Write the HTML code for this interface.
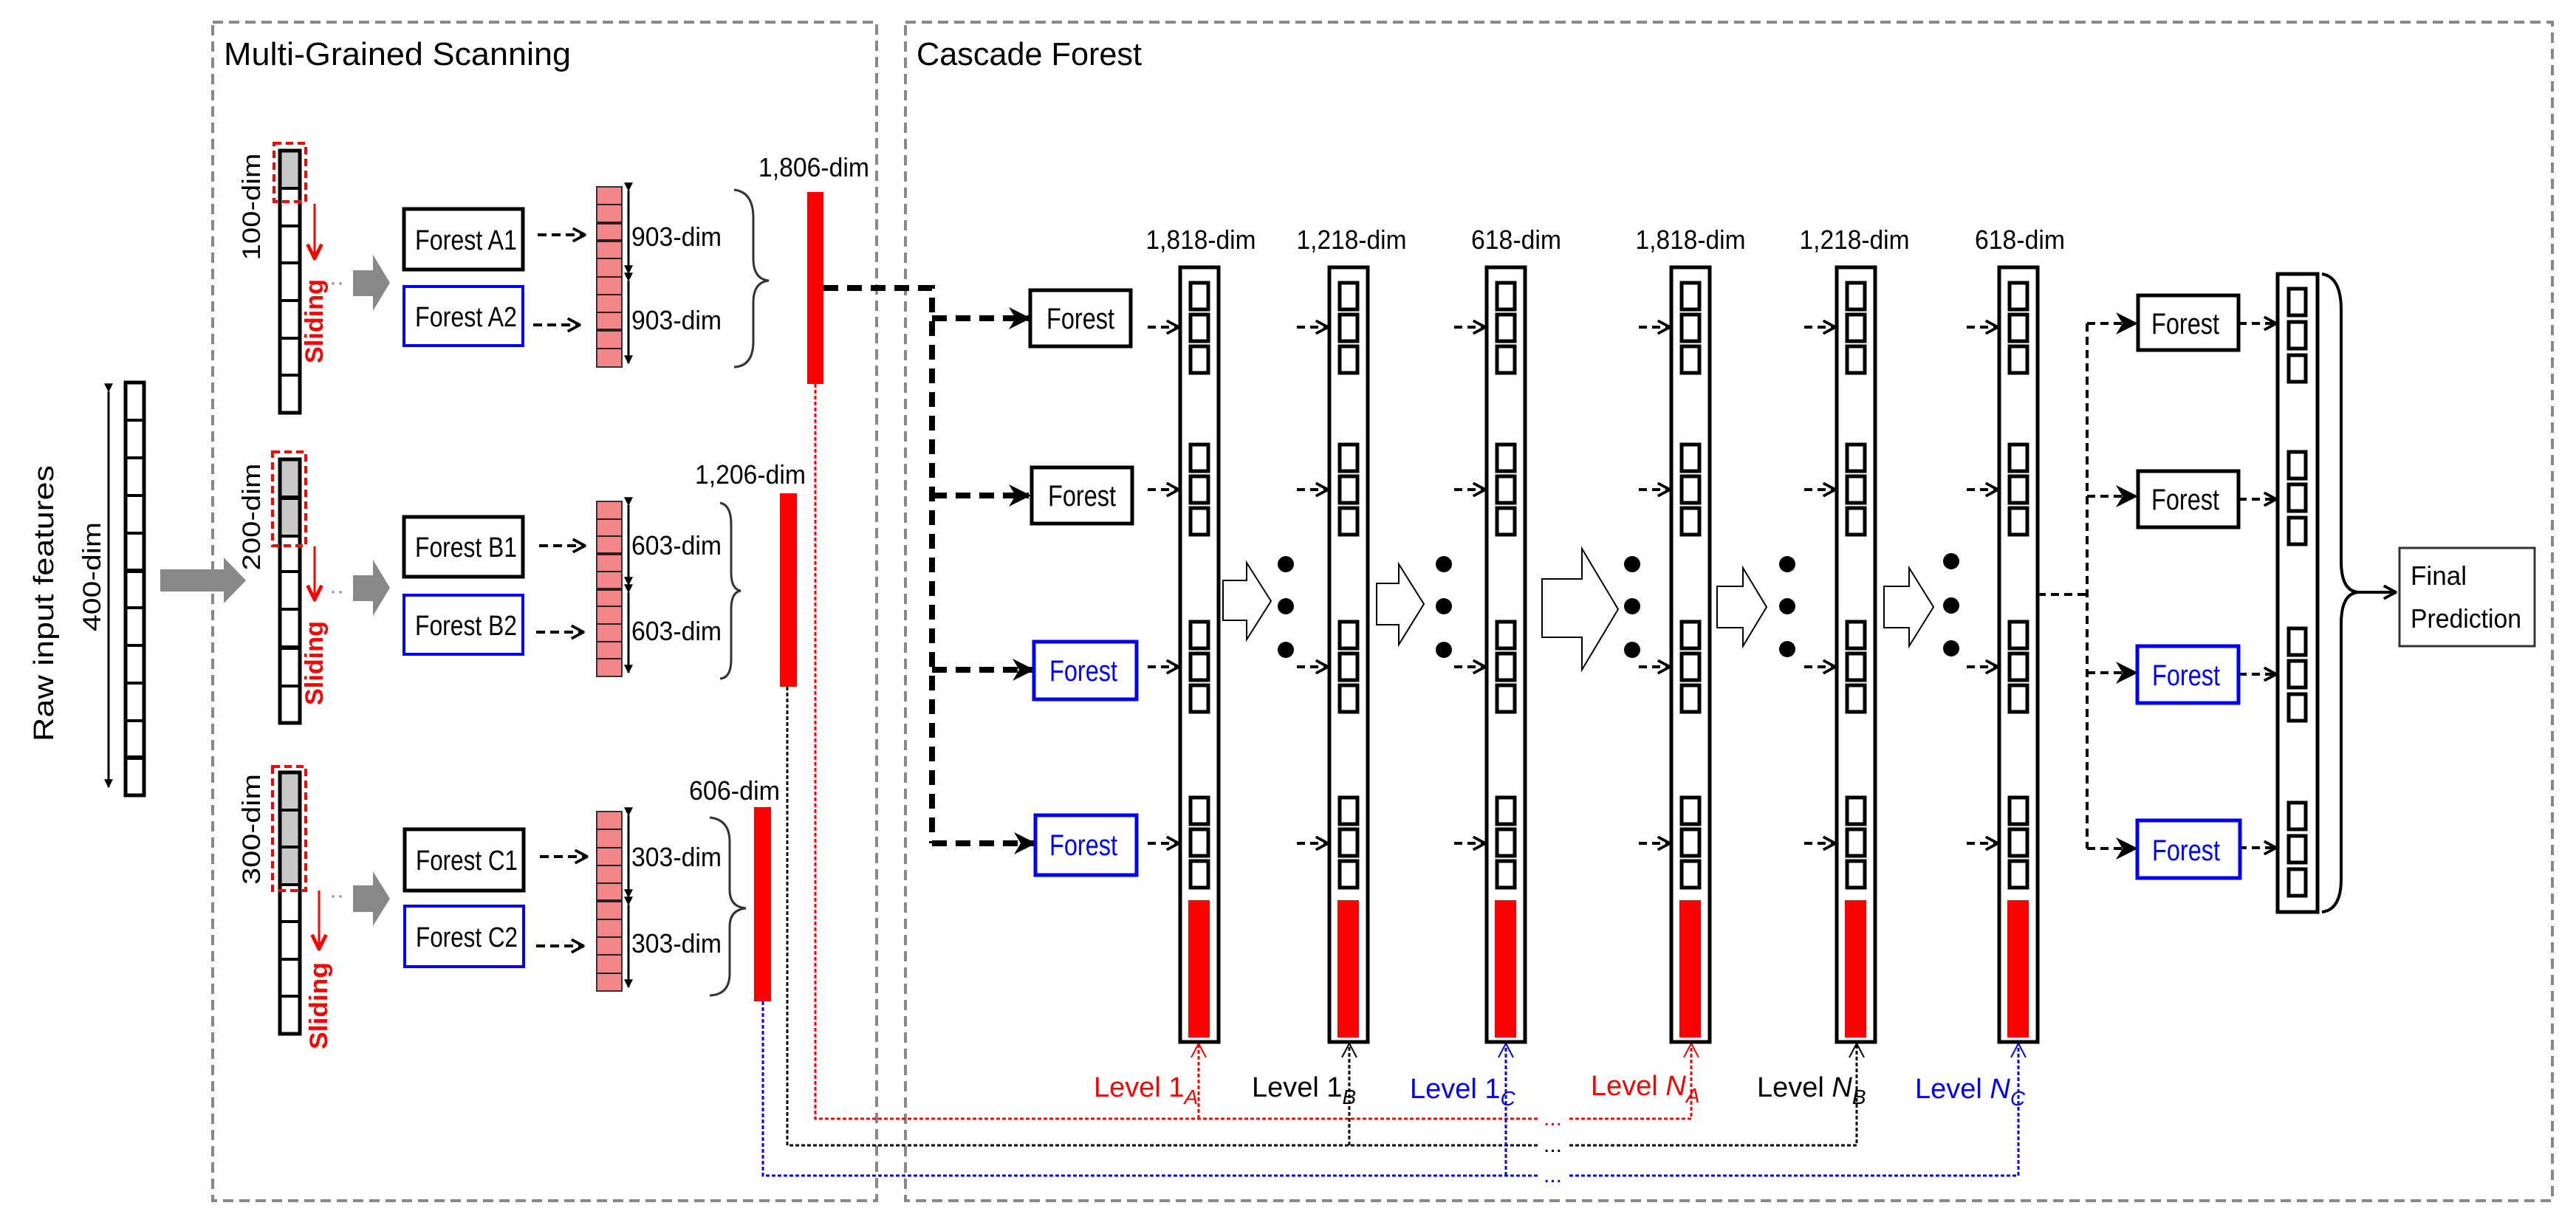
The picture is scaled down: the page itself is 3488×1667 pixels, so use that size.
<!DOCTYPE html>
<html><head><meta charset="utf-8"><style>
html,body{margin:0;padding:0;background:#fff;}
svg{display:block;}
text{font-family:"Liberation Sans",sans-serif;}
</style></head><body>
<svg width="3488" height="1667" viewBox="0 0 3488 1667" xmlns="http://www.w3.org/2000/svg">
<defs>
<marker id="ca" viewBox="0 0 16 16" refX="15" refY="8" markerWidth="20" markerHeight="20" orient="auto" markerUnits="userSpaceOnUse"><path d="M2,1 L15,8 L2,15" fill="none" stroke="#000" stroke-width="3"/></marker>
<marker id="fa" viewBox="0 0 10 10" refX="9" refY="5" markerWidth="30" markerHeight="30" orient="auto" markerUnits="userSpaceOnUse"><path d="M0,0 L10,5 L0,10 L3,5Z" fill="#000"/></marker>
<marker id="fs" viewBox="0 0 10 10" refX="9" refY="5" markerWidth="12" markerHeight="12" orient="auto" markerUnits="userSpaceOnUse"><path d="M0,0 L10,5 L0,10 Z" fill="#000"/></marker>
<marker id="ra" viewBox="0 0 10 10" refX="9" refY="5" markerWidth="24" markerHeight="24" orient="auto" markerUnits="userSpaceOnUse"><path d="M1,1 L9,5 L1,9" fill="none" stroke="#f00" stroke-width="2"/></marker>
<g id="col">
<rect x="0" y="362" width="52" height="1049" fill="#fff" stroke="#000" stroke-width="5"/>
<g fill="none" stroke="#000" stroke-width="5">
<rect x="14" y="383" width="24" height="36"/><rect x="14" y="426" width="24" height="36"/><rect x="14" y="469" width="24" height="36"/>
<rect x="14" y="602" width="24" height="36"/><rect x="14" y="645" width="24" height="36"/><rect x="14" y="688" width="24" height="36"/>
<rect x="14" y="842" width="24" height="36"/><rect x="14" y="885" width="24" height="36"/><rect x="14" y="928" width="24" height="36"/>
<rect x="14" y="1080" width="24" height="36"/><rect x="14" y="1123" width="24" height="36"/><rect x="14" y="1166" width="24" height="36"/>
</g>
<rect x="11" y="1219" width="29" height="186" fill="#f00"/>
<g stroke="#000" stroke-width="4" stroke-dasharray="11,7">
<line x1="-44" y1="443" x2="-2" y2="443" marker-end="url(#ca)"/>
<line x1="-44" y1="663" x2="-2" y2="663" marker-end="url(#ca)"/>
<line x1="-44" y1="903" x2="-2" y2="903" marker-end="url(#ca)"/>
<line x1="-44" y1="1142" x2="-2" y2="1142" marker-end="url(#ca)"/>
</g>
</g>
</defs>

<rect x="288" y="30" width="899" height="1596" fill="none" stroke="#888" stroke-width="4" stroke-dasharray="14,8"/>
<rect x="1226" y="30" width="2230" height="1596" fill="none" stroke="#888" stroke-width="4" stroke-dasharray="14,8"/>
<text x="303" y="88" font-size="44" textLength="470" lengthAdjust="spacingAndGlyphs">Multi-Grained Scanning</text>
<text x="1241" y="88" font-size="44" textLength="305" lengthAdjust="spacingAndGlyphs">Cascade Forest</text>

<text transform="translate(72,817) rotate(-90)" font-size="38" text-anchor="middle" textLength="374" lengthAdjust="spacingAndGlyphs">Raw input features</text>
<text transform="translate(136,781) rotate(-90)" font-size="34" text-anchor="middle" textLength="148" lengthAdjust="spacingAndGlyphs">400-dim</text>
<line x1="147" y1="530" x2="147" y2="1066" stroke="#000" stroke-width="3" marker-start="url(#fs)" marker-end="url(#fs)"/>
<rect x="170" y="518" width="25" height="559" fill="#fff" stroke="#000" stroke-width="5"/>
<g stroke="#000" stroke-width="4">
<line x1="170" y1="569" x2="195" y2="569"/><line x1="170" y1="620" x2="195" y2="620"/><line x1="170" y1="671" x2="195" y2="671"/><line x1="170" y1="722" x2="195" y2="722"/><line x1="170" y1="773" x2="195" y2="773" stroke-width="6"/><line x1="170" y1="823" x2="195" y2="823"/><line x1="170" y1="874" x2="195" y2="874"/><line x1="170" y1="925" x2="195" y2="925"/><line x1="170" y1="976" x2="195" y2="976"/><line x1="170" y1="1026" x2="195" y2="1026" stroke-width="6"/>
</g>
<polygon points="217,771 303,771 303,755 333,786 303,817 303,801 217,801" fill="#888"/>

<!-- column A -->
<rect x="379" y="204" width="27" height="51" fill="#c8c8c8"/>
<rect x="379" y="204" width="27" height="355" fill="none" stroke="#000" stroke-width="5"/>
<g stroke="#000" stroke-width="4"><line x1="379" y1="255" x2="406" y2="255"/><line x1="379" y1="306" x2="406" y2="306"/><line x1="379" y1="356" x2="406" y2="356"/><line x1="379" y1="407" x2="406" y2="407"/><line x1="379" y1="458" x2="406" y2="458"/><line x1="379" y1="508" x2="406" y2="508"/></g>
<rect x="371" y="194" width="43" height="79" fill="none" stroke="#f00" stroke-width="4" stroke-dasharray="10,6"/>
<text transform="translate(352,280) rotate(-90)" font-size="34" text-anchor="middle" textLength="145" lengthAdjust="spacingAndGlyphs">100-dim</text>
<line x1="426" y1="276" x2="426" y2="350" stroke="#f00" stroke-width="3" marker-end="url(#ra)"/>
<text transform="translate(437,435) rotate(-90)" font-size="34" font-weight="bold" fill="#f00" text-anchor="middle" textLength="114" lengthAdjust="spacingAndGlyphs">Sliding</text>
<text x="446" y="392" font-size="30" fill="#888">··</text>
<polygon points="478,366 505,366 505,345 528,383 505,421 505,401 478,401" fill="#888"/>

<rect x="547" y="283" width="161" height="82" fill="#fff" stroke="#000" stroke-width="5"/>
<text x="562" y="338" font-size="38" textLength="138" lengthAdjust="spacingAndGlyphs">Forest A1</text>
<rect x="547" y="388" width="161" height="80" fill="#fff" stroke="#00f" stroke-width="4"/>
<text x="562" y="442" font-size="38" textLength="138" lengthAdjust="spacingAndGlyphs">Forest A2</text>
<line x1="728" y1="318" x2="792" y2="318" stroke="#000" stroke-width="4" stroke-dasharray="12,7" marker-end="url(#ca)"/>
<line x1="722" y1="440" x2="785" y2="440" stroke="#000" stroke-width="4" stroke-dasharray="12,7" marker-end="url(#ca)"/>

<rect x="808" y="253" width="34" height="244" fill="#f4868a" stroke="#333" stroke-width="2"/>
<g stroke="#222" stroke-width="2"><line x1="808" y1="277" x2="842" y2="277"/><line x1="808" y1="302" x2="842" y2="302" stroke-width="4"/><line x1="808" y1="326" x2="842" y2="326" stroke-width="4"/><line x1="808" y1="350" x2="842" y2="350"/><line x1="808" y1="375" x2="842" y2="375"/><line x1="808" y1="399" x2="842" y2="399"/><line x1="808" y1="423" x2="842" y2="423"/><line x1="808" y1="447" x2="842" y2="447" stroke-width="4"/><line x1="808" y1="472" x2="842" y2="472"/></g>
<line x1="851" y1="258" x2="851" y2="370" stroke="#000" stroke-width="3" marker-start="url(#fs)" marker-end="url(#fs)"/>
<line x1="851" y1="380" x2="851" y2="492" stroke="#000" stroke-width="3" marker-start="url(#fs)" marker-end="url(#fs)"/>
<text x="855" y="333" font-size="36" textLength="122" lengthAdjust="spacingAndGlyphs">903-dim</text>
<text x="855" y="446" font-size="36" textLength="122" lengthAdjust="spacingAndGlyphs">903-dim</text>
<path d="M994,257 Q1020,260 1020,295 L1020,350 Q1020,378 1041,380 Q1020,382 1020,410 L1020,462 Q1020,496 994,497" fill="none" stroke="#333" stroke-width="3"/>
<text x="1027" y="239" font-size="36" textLength="150" lengthAdjust="spacingAndGlyphs">1,806-dim</text>
<rect x="1093" y="260" width="22" height="260" fill="#f00"/>

<!-- column B -->
<rect x="379" y="622" width="27" height="104" fill="#c8c8c8"/>
<rect x="379" y="622" width="27" height="357" fill="none" stroke="#000" stroke-width="5"/>
<g stroke="#000" stroke-width="4"><line x1="379" y1="674" x2="406" y2="674" stroke-width="6"/><line x1="379" y1="726" x2="406" y2="726"/><line x1="379" y1="774" x2="406" y2="774"/><line x1="379" y1="825" x2="406" y2="825"/><line x1="379" y1="877" x2="406" y2="877" stroke-width="6"/><line x1="379" y1="929" x2="406" y2="929"/></g>
<rect x="369" y="612" width="45" height="127" fill="none" stroke="#f00" stroke-width="4" stroke-dasharray="10,6"/>
<text transform="translate(352,700) rotate(-90)" font-size="34" text-anchor="middle" textLength="145" lengthAdjust="spacingAndGlyphs">200-dim</text>
<line x1="426" y1="740" x2="426" y2="812" stroke="#f00" stroke-width="3" marker-end="url(#ra)"/>
<text transform="translate(437,898) rotate(-90)" font-size="34" font-weight="bold" fill="#f00" text-anchor="middle" textLength="114" lengthAdjust="spacingAndGlyphs">Sliding</text>
<text x="446" y="810" font-size="30" fill="#888">··</text>
<polygon points="478,779 505,779 505,758 528,796 505,834 505,814 478,814" fill="#888"/>

<rect x="547" y="700" width="161" height="81" fill="#fff" stroke="#000" stroke-width="5"/>
<text x="562" y="754" font-size="38" textLength="138" lengthAdjust="spacingAndGlyphs">Forest B1</text>
<rect x="547" y="806" width="161" height="80" fill="#fff" stroke="#00f" stroke-width="4"/>
<text x="562" y="860" font-size="38" textLength="138" lengthAdjust="spacingAndGlyphs">Forest B2</text>
<line x1="730" y1="739" x2="792" y2="739" stroke="#000" stroke-width="4" stroke-dasharray="12,7" marker-end="url(#ca)"/>
<line x1="726" y1="856" x2="790" y2="856" stroke="#000" stroke-width="4" stroke-dasharray="12,7" marker-end="url(#ca)"/>
<rect x="808" y="679" width="34" height="237" fill="#f4868a" stroke="#333" stroke-width="2"/>
<g stroke="#222" stroke-width="2"><line x1="808" y1="703" x2="842" y2="703"/><line x1="808" y1="726" x2="842" y2="726"/><line x1="808" y1="750" x2="842" y2="750" stroke-width="4"/><line x1="808" y1="774" x2="842" y2="774"/><line x1="808" y1="798" x2="842" y2="798" stroke-width="4"/><line x1="808" y1="821" x2="842" y2="821"/><line x1="808" y1="845" x2="842" y2="845"/><line x1="808" y1="869" x2="842" y2="869"/><line x1="808" y1="892" x2="842" y2="892"/></g>
<line x1="851" y1="684" x2="851" y2="792" stroke="#000" stroke-width="3" marker-start="url(#fs)" marker-end="url(#fs)"/>
<line x1="851" y1="802" x2="851" y2="911" stroke="#000" stroke-width="3" marker-start="url(#fs)" marker-end="url(#fs)"/>
<text x="855" y="751" font-size="36" textLength="122" lengthAdjust="spacingAndGlyphs">603-dim</text>
<text x="855" y="867" font-size="36" textLength="122" lengthAdjust="spacingAndGlyphs">603-dim</text>
<path d="M975,681 Q990,684 990,710 L990,775 Q990,798 1003,800 Q990,802 990,825 L990,893 Q990,918 975,919" fill="none" stroke="#333" stroke-width="3"/>
<text x="941" y="655" font-size="36" textLength="150" lengthAdjust="spacingAndGlyphs">1,206-dim</text>
<rect x="1056" y="668" width="23" height="262" fill="#f00"/>

<!-- column C -->
<rect x="379" y="1046" width="27" height="152" fill="#c8c8c8"/>
<rect x="379" y="1046" width="27" height="354" fill="none" stroke="#000" stroke-width="5"/>
<g stroke="#000" stroke-width="4"><line x1="379" y1="1097" x2="406" y2="1097"/><line x1="379" y1="1147" x2="406" y2="1147"/><line x1="379" y1="1198" x2="406" y2="1198"/><line x1="379" y1="1248" x2="406" y2="1248"/><line x1="379" y1="1299" x2="406" y2="1299"/><line x1="379" y1="1349" x2="406" y2="1349"/></g>
<rect x="369" y="1038" width="45" height="168" fill="none" stroke="#f00" stroke-width="4" stroke-dasharray="10,6"/>
<text transform="translate(352,1123) rotate(-90)" font-size="34" text-anchor="middle" textLength="150" lengthAdjust="spacingAndGlyphs">300-dim</text>
<line x1="432" y1="1206" x2="432" y2="1285" stroke="#f00" stroke-width="3" marker-end="url(#ra)"/>
<text transform="translate(443,1362) rotate(-90)" font-size="34" font-weight="bold" fill="#f00" text-anchor="middle" textLength="118" lengthAdjust="spacingAndGlyphs">Sliding</text>
<text x="446" y="1222" font-size="30" fill="#888">··</text>
<polygon points="478,1199 505,1199 505,1180 528,1217 505,1254 505,1235 478,1235" fill="#888"/>

<rect x="548" y="1123" width="161" height="83" fill="#fff" stroke="#000" stroke-width="5"/>
<text x="563" y="1178" font-size="38" textLength="138" lengthAdjust="spacingAndGlyphs">Forest C1</text>
<rect x="548" y="1227" width="161" height="82" fill="#fff" stroke="#00f" stroke-width="4"/>
<text x="563" y="1282" font-size="38" textLength="138" lengthAdjust="spacingAndGlyphs">Forest C2</text>
<line x1="731" y1="1160" x2="795" y2="1160" stroke="#000" stroke-width="4" stroke-dasharray="12,7" marker-end="url(#ca)"/>
<line x1="726" y1="1281" x2="790" y2="1281" stroke="#000" stroke-width="4" stroke-dasharray="12,7" marker-end="url(#ca)"/>
<rect x="808" y="1099" width="34" height="243" fill="#f4868a" stroke="#333" stroke-width="2"/>
<g stroke="#222" stroke-width="2"><line x1="808" y1="1123" x2="842" y2="1123"/><line x1="808" y1="1148" x2="842" y2="1148"/><line x1="808" y1="1172" x2="842" y2="1172"/><line x1="808" y1="1196" x2="842" y2="1196"/><line x1="808" y1="1220" x2="842" y2="1220" stroke-width="4"/><line x1="808" y1="1245" x2="842" y2="1245"/><line x1="808" y1="1269" x2="842" y2="1269"/><line x1="808" y1="1293" x2="842" y2="1293"/><line x1="808" y1="1318" x2="842" y2="1318"/></g>
<line x1="851" y1="1104" x2="851" y2="1215" stroke="#000" stroke-width="3" marker-start="url(#fs)" marker-end="url(#fs)"/>
<line x1="851" y1="1225" x2="851" y2="1337" stroke="#000" stroke-width="3" marker-start="url(#fs)" marker-end="url(#fs)"/>
<text x="855" y="1173" font-size="36" textLength="122" lengthAdjust="spacingAndGlyphs">303-dim</text>
<text x="855" y="1290" font-size="36" textLength="122" lengthAdjust="spacingAndGlyphs">303-dim</text>
<path d="M961,1107 Q988,1110 988,1140 L988,1205 Q988,1228 1010,1230 Q988,1232 988,1255 L988,1318 Q988,1347 961,1348" fill="none" stroke="#333" stroke-width="3"/>
<text x="933" y="1083" font-size="36" textLength="123" lengthAdjust="spacingAndGlyphs">606-dim</text>
<rect x="1021" y="1093" width="23" height="263" fill="#f00"/>

<!-- feedback dotted lines -->
<g fill="none" stroke-width="3" stroke-dasharray="5,3">
<path d="M1104,520 L1104,1515 L2085,1515 M2125,1515 L2290,1515 L2290,1414" stroke="#f00"/>
<path d="M1623,1515 L1623,1414" stroke="#f00"/>
<path d="M1066,930 L1066,1551 L2085,1551 M2125,1551 L2514,1551 L2514,1414" stroke="#000"/>
<path d="M1827,1551 L1827,1414" stroke="#000"/>
<path d="M1033,1356 L1033,1592 L2085,1592 M2125,1592 L2733,1592 L2733,1414" stroke="#00f"/>
<path d="M2039,1592 L2039,1414" stroke="#00f"/>
</g>
<g stroke-width="2" fill="none">
<path d="M1613,1432 L1623,1413 L1633,1432" stroke="#f00"/>
<path d="M2280,1432 L2290,1413 L2300,1432" stroke="#f00"/>
<path d="M1817,1432 L1827,1413 L1837,1432" stroke="#000"/>
<path d="M2504,1432 L2514,1413 L2524,1432" stroke="#000"/>
<path d="M2029,1432 L2039,1413 L2049,1432" stroke="#00f"/>
<path d="M2723,1432 L2733,1413 L2743,1432" stroke="#00f"/>
</g>
<text x="2090" y="1524" font-size="30" fill="#f00">...</text>
<text x="2090" y="1560" font-size="30" fill="#000">...</text>
<text x="2090" y="1601" font-size="30" fill="#00f">...</text>

<text x="1481" y="1485" font-size="38" fill="#f00">Level 1<tspan font-size="28" font-style="italic" dy="10">A</tspan></text>
<text x="1695" y="1485" font-size="38" fill="#000">Level 1<tspan font-size="28" font-style="italic" dy="10">B</tspan></text>
<text x="1909" y="1487" font-size="38" fill="#00f">Level 1<tspan font-size="28" font-style="italic" dy="10">C</tspan></text>
<text x="2154" y="1483" font-size="38" fill="#f00">Level <tspan font-style="italic">N</tspan><tspan font-size="28" font-style="italic" dy="10">A</tspan></text>
<text x="2379" y="1485" font-size="38" fill="#000">Level <tspan font-style="italic">N</tspan><tspan font-size="28" font-style="italic" dy="10">B</tspan></text>
<text x="2593" y="1487" font-size="38" fill="#00f">Level <tspan font-style="italic">N</tspan><tspan font-size="28" font-style="italic" dy="10">C</tspan></text>

<path d="M1115,390 L1262,390 L1262,1142" fill="none" stroke="#000" stroke-width="8" stroke-dasharray="20,12"/>
<g stroke="#000" stroke-width="8" stroke-dasharray="20,12">
<line x1="1262" y1="431" x2="1393" y2="431" marker-end="url(#fa)"/>
<line x1="1262" y1="671" x2="1393" y2="671" marker-end="url(#fa)"/>
<line x1="1262" y1="907" x2="1398" y2="907" marker-end="url(#fa)"/>
<line x1="1262" y1="1142" x2="1400" y2="1142" marker-end="url(#fa)"/>
</g>
<rect x="1395" y="393" width="136" height="76" fill="#fff" stroke="#000" stroke-width="5"/>
<text x="1417" y="445" font-size="40" textLength="92" lengthAdjust="spacingAndGlyphs">Forest</text>
<rect x="1397" y="633" width="136" height="76" fill="#fff" stroke="#000" stroke-width="5"/>
<text x="1419" y="685" font-size="40" textLength="92" lengthAdjust="spacingAndGlyphs">Forest</text>
<rect x="1400" y="869" width="139" height="78" fill="#fff" stroke="#00f" stroke-width="5"/>
<text x="1421" y="922" font-size="40" fill="#00f" textLength="92" lengthAdjust="spacingAndGlyphs">Forest</text>
<rect x="1402" y="1104" width="137" height="81" fill="#fff" stroke="#00f" stroke-width="5"/>
<text x="1421" y="1158" font-size="40" fill="#00f" textLength="92" lengthAdjust="spacingAndGlyphs">Forest</text>

<use href="#col" transform="translate(1598,0)"/>
<use href="#col" transform="translate(1800,0)"/>
<use href="#col" transform="translate(2013,0)"/>
<use href="#col" transform="translate(2263,0)"/>
<use href="#col" transform="translate(2487,0)"/>
<use href="#col" transform="translate(2707,0)"/>

<g font-size="36" text-anchor="middle">
<text x="1626" y="337" textLength="149" lengthAdjust="spacingAndGlyphs">1,818-dim</text>
<text x="1830" y="337" textLength="149" lengthAdjust="spacingAndGlyphs">1,218-dim</text>
<text x="2053" y="337" textLength="122" lengthAdjust="spacingAndGlyphs">618-dim</text>
<text x="2289" y="337" textLength="149" lengthAdjust="spacingAndGlyphs">1,818-dim</text>
<text x="2511" y="337" textLength="149" lengthAdjust="spacingAndGlyphs">1,218-dim</text>
<text x="2735" y="337" textLength="122" lengthAdjust="spacingAndGlyphs">618-dim</text>
</g>

<g fill="#fff" stroke="#000" stroke-width="2">
<polygon points="1656,786 1688,786 1688,762 1721,814 1688,866 1688,840 1656,840"/>
<polygon points="1864,790 1894,790 1894,764 1928,818 1894,873 1894,846 1864,846"/>
<polygon points="2088,784 2142,784 2142,743 2191,825 2142,907 2142,863 2088,863"/>
<polygon points="2325,794 2360,794 2360,769 2392,822 2360,875 2360,850 2325,850"/>
<polygon points="2551,794 2585,794 2585,769 2618,822 2585,875 2585,850 2551,850"/>
</g>
<g fill="#000">
<circle cx="1741" cy="764" r="11"/><circle cx="1741" cy="821" r="11"/><circle cx="1741" cy="880" r="11"/>
<circle cx="1955" cy="764" r="11"/><circle cx="1955" cy="821" r="11"/><circle cx="1955" cy="880" r="11"/>
<circle cx="2210" cy="764" r="11"/><circle cx="2210" cy="821" r="11"/><circle cx="2210" cy="880" r="11"/>
<circle cx="2420" cy="764" r="11"/><circle cx="2420" cy="821" r="11"/><circle cx="2420" cy="879" r="11"/>
<circle cx="2642" cy="760" r="11"/><circle cx="2642" cy="820" r="11"/><circle cx="2642" cy="878" r="11"/>
</g>

<path d="M2759,805 L2826,805 M2826,438 L2826,1149" fill="none" stroke="#000" stroke-width="4" stroke-dasharray="11,7"/>
<g stroke="#000" stroke-width="4" stroke-dasharray="11,7">
<line x1="2826" y1="438" x2="2892" y2="438" marker-end="url(#fa)"/>
<line x1="2826" y1="672" x2="2892" y2="672" marker-end="url(#fa)"/>
<line x1="2826" y1="911" x2="2892" y2="911" marker-end="url(#fa)"/>
<line x1="2826" y1="1149" x2="2892" y2="1149" marker-end="url(#fa)"/>
<line x1="3031" y1="438" x2="3082" y2="438" marker-end="url(#ca)"/>
<line x1="3031" y1="676" x2="3082" y2="676" marker-end="url(#ca)"/>
<line x1="3031" y1="913" x2="3082" y2="913" marker-end="url(#ca)"/>
<line x1="3031" y1="1148" x2="3082" y2="1148" marker-end="url(#ca)"/>
</g>
<rect x="2895" y="400" width="136" height="74" fill="#fff" stroke="#000" stroke-width="5"/>
<text x="2913" y="452" font-size="40" textLength="92" lengthAdjust="spacingAndGlyphs">Forest</text>
<rect x="2895" y="638" width="136" height="76" fill="#fff" stroke="#000" stroke-width="5"/>
<text x="2913" y="690" font-size="40" textLength="92" lengthAdjust="spacingAndGlyphs">Forest</text>
<rect x="2894" y="875" width="137" height="77" fill="#fff" stroke="#00f" stroke-width="5"/>
<text x="2914" y="928" font-size="40" fill="#00f" textLength="92" lengthAdjust="spacingAndGlyphs">Forest</text>
<rect x="2894" y="1111" width="139" height="78" fill="#fff" stroke="#00f" stroke-width="5"/>
<text x="2914" y="1165" font-size="40" fill="#00f" textLength="92" lengthAdjust="spacingAndGlyphs">Forest</text>

<rect x="3084" y="371" width="54" height="864" fill="#fff" stroke="#000" stroke-width="5"/>
<g fill="none" stroke="#000" stroke-width="5">
<rect x="3099" y="391" width="23" height="36"/><rect x="3099" y="436" width="23" height="36"/><rect x="3099" y="481" width="23" height="36"/>
<rect x="3099" y="612" width="23" height="36"/><rect x="3099" y="656" width="23" height="36"/><rect x="3099" y="701" width="23" height="36"/>
<rect x="3099" y="851" width="23" height="36"/><rect x="3099" y="895" width="23" height="36"/><rect x="3099" y="940" width="23" height="36"/>
<rect x="3099" y="1087" width="23" height="36"/><rect x="3099" y="1132" width="23" height="36"/><rect x="3099" y="1177" width="23" height="36"/>
</g>
<path d="M3144,371 Q3170,375 3170,420 L3170,760 Q3170,802 3195,802 Q3170,802 3170,845 L3170,1190 Q3170,1232 3144,1235" fill="none" stroke="#000" stroke-width="4"/>
<line x1="3195" y1="802" x2="3244" y2="802" stroke="#000" stroke-width="4" marker-end="url(#ca)"/>
<rect x="3249" y="742" width="183" height="133" fill="#fff" stroke="#333" stroke-width="3"/>
<text x="3264" y="792" font-size="36" textLength="76" lengthAdjust="spacingAndGlyphs">Final</text>
<text x="3264" y="850" font-size="36" textLength="150" lengthAdjust="spacingAndGlyphs">Prediction</text>
</svg>
</body></html>
